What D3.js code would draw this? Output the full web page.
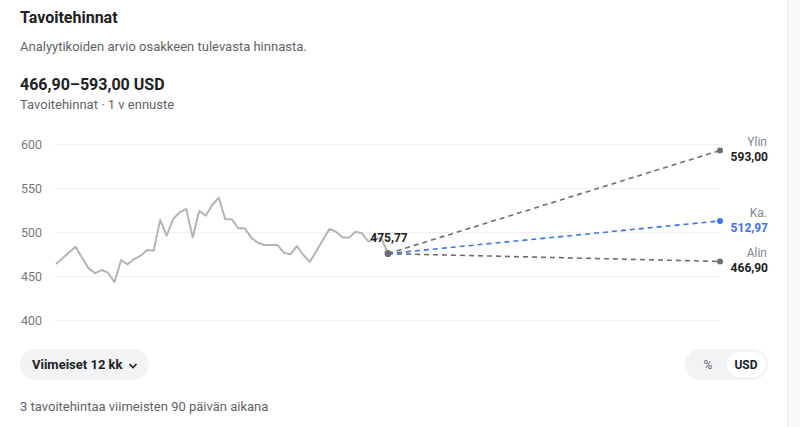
<!DOCTYPE html>
<html>
<head>
<meta charset="utf-8">
<script src="https://cdn.jsdelivr.net/npm/d3@7"></script>
<style>
  html, body { margin: 0; padding: 0; background: #fff; }
  svg { display: block; font-family: Roboto, "Noto Sans", sans-serif; }
</style>
</head>
<body>
<svg id="chart" width="800" height="427"></svg>
<script>
// ---- data ----
const history = [464, 470.5, 477, 483.7, 471, 459, 453.4, 457.2, 454.1, 443.2,
  468.5, 463.6, 469.6, 473.4, 479.9, 479.1, 514, 496.2, 515.1, 522.7,
  526.5, 494.3, 524.2, 518.9, 531, 539.3, 514.8, 514.8, 504.5, 504.5,
  493.9, 488.2, 485.6, 485.6, 485.6, 476.9, 475, 484.4, 474.2, 466.6,
  478.8, 491.3, 503.8, 500.7, 494.3, 493.9, 500.7, 498.9, 489.3, 493.2,
  493, 475.77];
const currentLabel = "475,77";
const targetNames = ["Ylin", "Ka.", "Alin"];
const targetValues = [593.00, 512.97, 466.90];
const targetLabels = ["593,00", "512,97", "466,90"];
const yTicks = [400, 450, 500, 550, 600];
const forecastSteps = 51; // forecast horizon in same step units as history

// ---- layout ----
const svg = d3.select("#chart");
const x = d3.scaleLinear().domain([0, history.length - 1 + forecastSteps]).range([56, 720]);
const y = d3.scaleLinear().domain([400, 600]).range([320.3, 144.3]);

// right strip
svg.append("rect").attr("x", 787).attr("y", 0).attr("width", 13).attr("height", 427).attr("fill", "#f8f9fa");
svg.append("line").attr("x1", 787.5).attr("x2", 787.5).attr("y1", 0).attr("y2", 427).attr("stroke", "#eeeeee");

// header texts
svg.append("text").attr("x", 20).attr("y", 23).attr("font-size", 16).attr("font-weight", 700).attr("fill", "#202124").text("Tavoitehinnat");
svg.append("text").attr("x", 20).attr("y", 51).attr("font-size", 13).attr("fill", "#5f6368").text("Analyytikoiden arvio osakkeen tulevasta hinnasta.");
svg.append("text").attr("x", 20).attr("y", 90).attr("font-size", 16).attr("font-weight", 700).attr("fill", "#202124").text("466,90–593,00 USD");
svg.append("text").attr("x", 20).attr("y", 109).attr("font-size", 13).attr("fill", "#5f6368").text("Tavoitehinnat · 1 v ennuste");

// grid
const grid = svg.append("g");
grid.selectAll("line").data(yTicks).join("line")
  .attr("x1", 55).attr("x2", 720)
  .attr("y1", d => Math.round(y(d)) + 0.5).attr("y2", d => Math.round(y(d)) + 0.5)
  .attr("stroke", "#f0f0f0").attr("stroke-width", 1);
grid.selectAll("text").data(yTicks).join("text")
  .attr("x", 21).attr("y", d => y(d)).attr("dy", "0.35em")
  .attr("font-size", 12.5).attr("fill", "#777777").text(d => d);

// history line
const line = d3.line().x((d, i) => x(i)).y(d => y(d));
svg.append("path").datum(history).attr("d", line)
  .attr("fill", "none").attr("stroke", "#b4b4b4").attr("stroke-width", 2).attr("stroke-linejoin", "round");

// forecast lines
const i0 = history.length - 1;
const v0 = history[i0];
const iEnd = i0 + forecastSteps;
const colors = ["#6e6e6e", "#3d73ec", "#6e6e6e"];
const order = [0, 2, 1];
order.forEach(k => {
  svg.append("line")
    .attr("x1", x(i0)).attr("y1", y(v0)).attr("x2", x(iEnd)).attr("y2", y(targetValues[k]))
    .attr("stroke", colors[k]).attr("stroke-width", 1.6).attr("stroke-dasharray", "5,4");
  svg.append("circle").attr("cx", x(iEnd)).attr("cy", y(targetValues[k])).attr("r", 3).attr("fill", colors[k]);
});
svg.append("circle").attr("cx", x(i0)).attr("cy", y(v0)).attr("r", 3.5).attr("fill", "#6e6e6e");

svg.append("text").attr("x", x(i0) + 1).attr("y", 241.5).attr("text-anchor", "middle")
  .attr("font-size", 12).attr("font-weight", 700).attr("fill", "#202124").text(currentLabel);

// right labels
targetValues.forEach((v, k) => {
  const yy = y(v);
  svg.append("text").attr("x", 767).attr("y", yy - 4).attr("text-anchor", "end")
    .attr("font-size", 12).attr("fill", "#80868b").text(targetNames[k]);
  svg.append("text").attr("x", 768).attr("y", yy + 11).attr("text-anchor", "end")
    .attr("font-size", 12).attr("font-weight", 700).attr("fill", k === 1 ? "#3d73ec" : "#202124").text(targetLabels[k]);
});

// bottom controls
svg.append("rect").attr("x", 20).attr("y", 349).attr("width", 129).attr("height", 31).attr("rx", 15.5).attr("fill", "#f1f3f4");
svg.append("text").attr("x", 32).attr("y", 369).attr("font-size", 13).attr("font-weight", 700).attr("fill", "#202124").text("Viimeiset 12 kk");
svg.append("path").attr("d", "M129.5,364 L133,367.5 L136.5,364").attr("fill", "none").attr("stroke", "#202124").attr("stroke-width", 1.6);

svg.append("rect").attr("x", 685).attr("y", 349).attr("width", 83).attr("height", 31).attr("rx", 15.5).attr("fill", "#f1f3f4");
svg.append("rect").attr("x", 727).attr("y", 352).attr("width", 39).attr("height", 25).attr("rx", 12.5).attr("fill", "#ffffff");
svg.append("text").attr("x", 708).attr("y", 368.5).attr("text-anchor", "middle").attr("font-size", 12).attr("fill", "#5f6368").text("%");
svg.append("text").attr("x", 746).attr("y", 368.5).attr("text-anchor", "middle").attr("font-size", 12).attr("font-weight", 700).attr("fill", "#202124").text("USD");

svg.append("text").attr("x", 20).attr("y", 411).attr("font-size", 13).attr("fill", "#5f6368").text("3 tavoitehintaa viimeisten 90 päivän aikana");
</script>
</body>
</html>
